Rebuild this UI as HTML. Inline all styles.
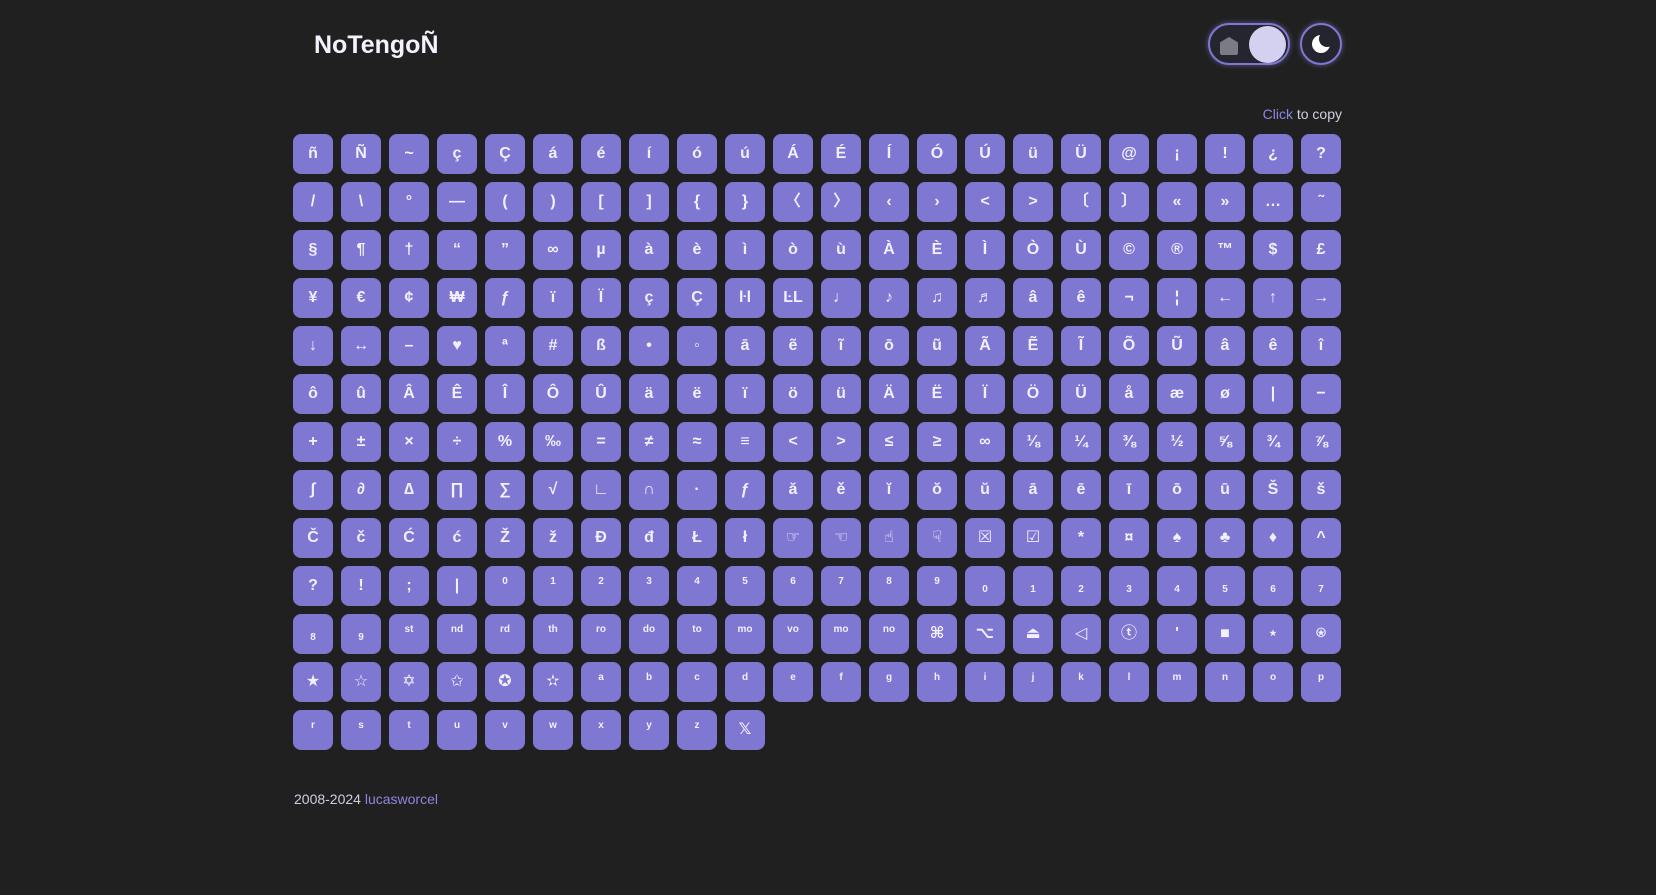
<!DOCTYPE html>
<html><head><meta charset="utf-8">
<style>
html,body{margin:0;padding:0;}
body{width:1656px;height:895px;background:#202020;font-family:"Liberation Sans","DejaVu Sans","Noto Sans CJK JP",sans-serif;position:relative;overflow:hidden;}
#logo{position:absolute;left:314px;top:31px;font-size:25px;font-weight:bold;color:#f4f2ff;letter-spacing:0px;}
#toggle{position:absolute;left:1208px;top:23px;width:78px;height:38px;border:2px solid #7f78d2;border-radius:22px;box-shadow:0 0 6px rgba(127,120,210,.6);background:#252530;}
#toggle .house{position:absolute;left:10px;top:12px;width:18px;height:18px;background:#7c7a85;clip-path:polygon(50% 0,100% 30%,100% 100%,0 100%,0 30%);border-radius:2px;}
#toggle .knob{position:absolute;right:2px;top:1px;width:37px;height:37px;border-radius:50%;background:#d4d0ef;}
#moon{position:absolute;left:1300px;top:23px;width:38px;height:38px;border:2px solid #7f78d2;border-radius:50%;box-shadow:0 0 6px rgba(127,120,210,.6);background:#252530;}
#moon .m{position:absolute;left:10px;top:10px;width:18px;height:18px;border-radius:50%;background:#fff;}
#moon .c{position:absolute;left:17px;top:6px;width:16px;height:16px;border-radius:50%;background:#252530;}
#hint{position:absolute;right:314px;top:106px;font-size:14px;color:#cfcfe0;}
#hint span{color:#8c86e0;}
#grid{position:absolute;left:293px;top:134px;}
.k{position:absolute;width:40px;height:40px;background:#7f78d2;border-radius:8px;color:#f2f0ff;font-size:16px;font-weight:bold;display:flex;align-items:center;justify-content:center;line-height:1;}
.k.sm{font-size:10px;}
.k.up{align-items:flex-start;padding-top:0;}
.k.up span{margin-top:11px;}
.k.dn span{margin-top:8px;}
#foot{position:absolute;left:294px;top:791px;font-size:14px;color:#cfcfe0;}
#foot span{color:#8c86e0;}
</style></head><body>
<div id="logo">NoTengoÑ</div>
<div id="toggle"><div class="house"></div><div class="knob"></div></div>
<div id="moon"><div class="m"></div><div class="c"></div></div>
<div id="hint"><span>Click</span> to copy</div>
<div id="grid"></div>
<div id="foot">2008-2024 <span>lucasworcel</span></div>
<script>
const rows = [
"ñ Ñ ~ ç Ç á é í ó ú Á É Í Ó Ú ü Ü @ ¡ ! ¿ ?",
"/ \\ ° — ( ) [ ] { } 〈 〉 ‹ › < > 〔 〕 « » … ˜",
"§ ¶ † “ ” ∞ µ à è ì ò ù À È Ì Ò Ù © ® ™ $ £",
"¥ € ¢ ₩ ƒ ï Ï ç Ç ŀl ĿL ♩ ♪ ♫ ♬ â ê ¬ ¦ ← ↑ →",
"↓ ↔ – ♥ ª # ß • ◦ ā ẽ ĩ ō ũ Ã Ẽ Ĩ Õ Ũ â ê î",
"ô û Â Ê Î Ô Û ä ë ï ö ü Ä Ë Ï Ö Ü å æ ø | −",
"+ ± × ÷ % ‰ = ≠ ≈ ≡ < > ≤ ≥ ∞ ⅛ ¼ ⅜ ½ ⅝ ¾ ⅞",
"∫ ∂ ∆ ∏ ∑ √ ∟ ∩ · ƒ ă ě ĭ ŏ ŭ ā ē ī ō ū Š š",
"Č č Ć ć Ž ž Đ đ Ł ł ☞ ☜ ☝ ☟ ☒ ☑ * ¤ ♠ ♣ ♦ ^",
"? ! ; | ^0 ^1 ^2 ^3 ^4 ^5 ^6 ^7 ^8 ^9 _0 _1 _2 _3 _4 _5 _6 _7",
"_8 _9 ^st ^nd ^rd ^th ^ro ^do ^to ^mo ^vo ^mo ^no ⌘ ⌥ ⏏ ◁ ⓣ ' ■ ⋆ ⍟",
"★ ☆ ✡ ✩ ✪ ✫ ^a ^b ^c ^d ^e ^f ^g ^h ^i ^j ^k ^l ^m ^n ^o ^p",
"^r ^s ^t ^u ^v ^w ^x ^y ^z 𝕏"
];
const grid = document.getElementById('grid');
rows.forEach((r, ri) => {
  r.split(' ').forEach((t, ci) => {
    const el = document.createElement('div');
    el.className = 'k';
    let txt = t;
    const sp = document.createElement('span');
    if (t.length > 1 && (t[0] === '^' || t[0] === '_')) {
      el.classList.add('sm');
      el.classList.add(t[0] === '^' ? 'up' : 'dn');
      txt = t.slice(1);
    }
    sp.textContent = txt;
    el.appendChild(sp);
    el.style.left = (ci * 48) + 'px';
    el.style.top = (ri * 48) + 'px';
    
    
    grid.appendChild(el);
  });
});
</script>
</body></html>
